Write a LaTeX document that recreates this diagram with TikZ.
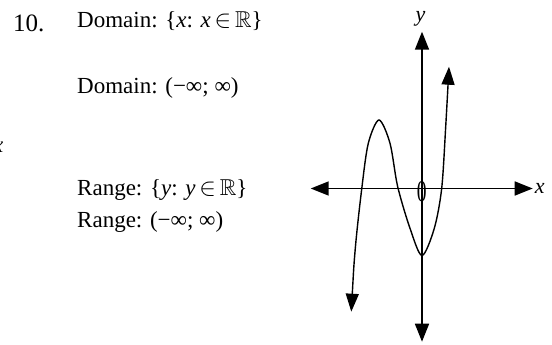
\documentclass[tikz,border=0pt]{standalone}
\usepackage{amssymb}
\usepackage{fontspec}
\setmainfont{Liberation Serif}
\usetikzlibrary{arrows.meta}

\begin{document}
\begin{tikzpicture}[
  x=1pt, y=-1pt,
  txt/.style={anchor=base west, inner sep=0pt, font=\fontsize{23}{26}\selectfont},
  lbl/.style={inner sep=0pt, font=\fontsize{22}{24}\selectfont\itshape},
  axis/.style={line width=1.7pt, {Triangle[length=18pt, width=14pt]}-{Triangle[length=18pt, width=14pt]}},
  curve/.style={line width=1.4pt, {Triangle[length=18pt, width=13pt]}-{Triangle[length=18pt, width=13pt]}}
]
\useasboundingbox (0,0) rectangle (552,345);

% answer text
\node[txt, font=\fontsize{25}{28}\selectfont] (num) at (13,32) {10.};
\node[txt] (dom1) at (77,28) {Domain: \{\textit{x}: \textit{x}\,$\in$\,$\mathbb{R}$\}};
\node[txt] (dom2) at (77,93) {Domain: (−∞; ∞)};
\node[txt] (ran1) at (77,195) {Range: \{\textit{y}: \textit{y}\,$\in$\,$\mathbb{R}$\}};
\node[txt] (ran2) at (77,227) {Range: (−∞; ∞)};
\node[txt, anchor=base east] (cut) at (3.5,152) {\textit{x}};

% axes
\coordinate (xl) at (310.7,188.5);
\coordinate (xr) at (532.7,188.5);
\coordinate (yt) at (422,31.7);
\coordinate (yb) at (422,341.7);
\draw[axis] (xl) -- (xr);
\draw[axis] (yt) -- (yb);
\node[lbl, anchor=west, inner sep=2pt] (xlab) at (xr) {x};
\node[lbl] (ylab) at (420.5,19) {y};
\node[inner sep=0pt, font=\fontsize{30}{32}\selectfont] (orig) at (421.7,191.5) {\scalebox{0.65}[1]{0}};

% graph
\draw[curve] plot[smooth, tension=0.5] coordinates {
  (351.3,311.7) (355.3,248.3) (361.8,188.3) (368.3,143.3)
  (379,120) (390,143.3) (397.7,186.7) (410,228.3)
  (422,255.5) (434.3,228.3) (441.7,188.3) (445.7,126.7) (449,66.7)};
\end{tikzpicture}
\end{document}
